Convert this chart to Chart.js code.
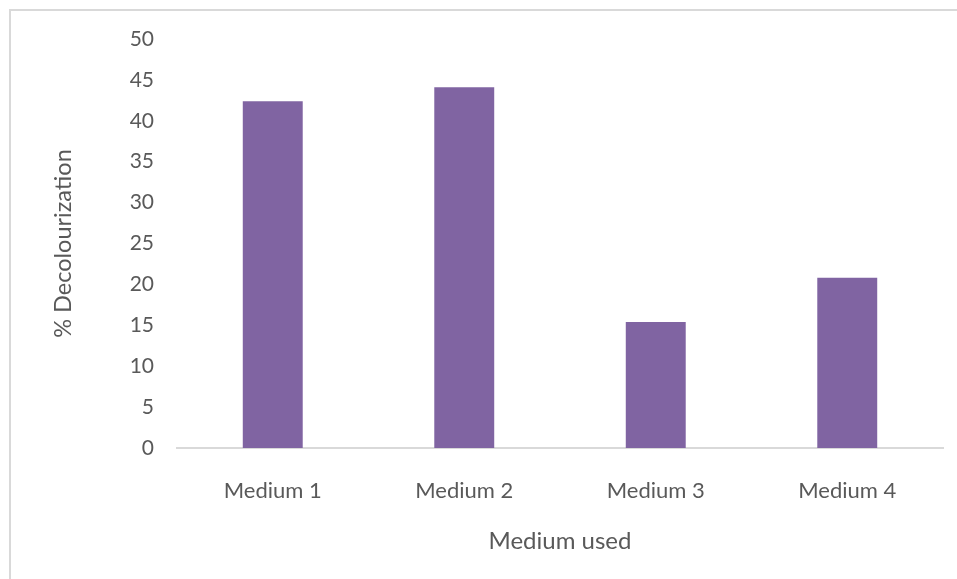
<!DOCTYPE html>
<html>
<head>
<meta charset="utf-8">
<script src="https://cdn.jsdelivr.net/npm/chart.js@4/dist/chart.umd.min.js"></script>
<style>
  html, body { margin: 0; padding: 0; background: #ffffff; }
  #wrap { width: 957px; height: 579px; position: relative; }
</style>
</head>
<body>
<div id="wrap"><canvas id="chart" width="957" height="579"></canvas></div>
<script>
// Decolourization achieved in each growth medium
const categories = ["Medium 1", "Medium 2", "Medium 3", "Medium 4"];
const decolourization = [42.4, 44.1, 15.4, 20.8];
const yTicks = [0, 5, 10, 15, 20, 25, 30, 35, 40, 45, 50];

const textColor = "#595959";
const fontFamily = "Lato, 'Open Sans', sans-serif";

// light frame along the top and left edges of the chart box
const framePlugin = {
  id: "frame",
  beforeDraw(chart) {
    const ctx = chart.ctx;
    ctx.save();
    ctx.fillStyle = "#ffffff";
    ctx.fillRect(0, 0, chart.width, chart.height);
    ctx.strokeStyle = "#d9d9d9";
    ctx.lineWidth = 2;
    ctx.beginPath();
    ctx.moveTo(10, chart.height);
    ctx.lineTo(10, 10);
    ctx.lineTo(chart.width, 10);
    ctx.stroke();
    ctx.restore();
  }
};

new Chart(document.getElementById("chart"), {
  type: "bar",
  data: {
    labels: categories,
    datasets: [{
      label: "% Decolourization",
      data: decolourization,
      backgroundColor: "#8064A2",
      borderWidth: 0,
      categoryPercentage: 1.0,
      barPercentage: 0.313
    }]
  },
  options: {
    responsive: false,
    animation: false,
    layout: { padding: { top: 39, right: 14, left: 0, bottom: 0 } },
    plugins: {
      legend: { display: false },
      tooltip: { enabled: false }
    },
    scales: {
      x: {
        grid: { display: false },
        border: { display: true, color: "#d9d9d9", width: 2 },
        ticks: {
          color: textColor,
          font: { family: fontFamily, size: 22 },
          padding: 22,
          maxRotation: 0
        },
        title: {
          display: true,
          text: "Medium used",
          color: textColor,
          font: { family: fontFamily, size: 24 },
          padding: { top: 0, bottom: 23 }
        },
        afterFit(scale) { scale.height = 131; }
      },
      y: {
        min: 0,
        max: 50,
        grid: { display: false },
        border: { display: false },
        afterBuildTicks(scale) { scale.ticks = yTicks.map(v => ({ value: v })); },
        ticks: {
          color: textColor,
          font: { family: fontFamily, size: 21 },
          padding: 15
        },
        title: {
          display: true,
          text: "% Decolourization",
          color: textColor,
          font: { family: fontFamily, size: 23.5 },
          padding: { top: 49, bottom: 0 }
        },
        afterFit(scale) { scale.width = 177; }
      }
    }
  },
  plugins: [framePlugin]
});
</script>
</body>
</html>
